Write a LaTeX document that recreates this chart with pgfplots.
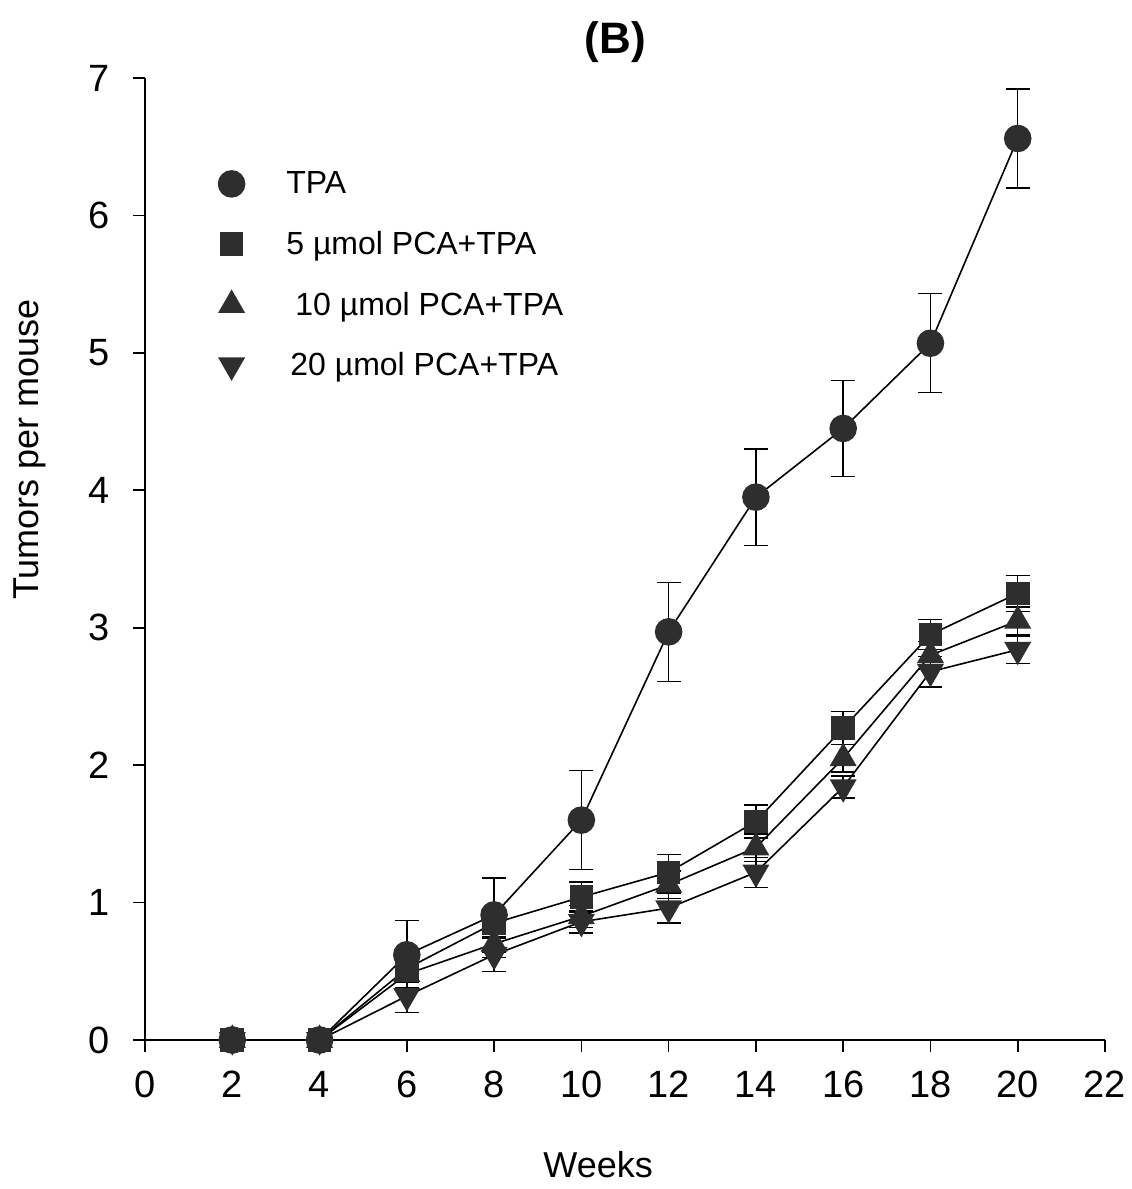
\documentclass[border=0pt]{standalone}
\usepackage{pgfplots}
\pgfplotsset{compat=1.18}
\usepackage{fontspec}
\setmainfont{Liberation Sans}
\definecolor{mk}{gray}{0.18}
\begin{document}
\begin{tikzpicture}
\useasboundingbox (-72.5pt,-74.5pt) rectangle (493pt,520pt);
\begin{axis}[
  at={(0,0)}, anchor=south west,
  scale only axis, width=480pt, height=481pt,
  xmin=0, xmax=22, ymin=0, ymax=7,
  xtick={0,2,...,22}, ytick={0,1,...,7},
  axis lines*=left,
  axis line style={line width=0.8pt},
  tick align=outside, major tick length=6pt,
  tick style={line width=0.8pt, black},
  /pgf/number format/assume math mode=true,
  tick label style={font=\fontsize{19}{22}\selectfont},
  xticklabel style={yshift=-6pt},
  yticklabel style={xshift=-8pt},
  xlabel={Weeks}, ylabel={Tumors per mouse},
  label style={font=\fontsize{18}{21}\selectfont},
  xlabel style={at={(axis description cs:0.472,-0.13)}, anchor=center},
  ylabel style={at={(axis description cs:-0.12,0.614)}, anchor=center},
  title={(B)},
  title style={at={(axis description cs:0.49,1)}, anchor=center, yshift=12pt, font=\fontsize{22}{26}\selectfont\bfseries},
  clip=false,
  every axis plot/.append style={line width=0.8pt, black},
  error bars/y dir=both, error bars/y explicit,
  error bars/error bar style={line width=0.7pt, black},
  error bars/error mark options={rotate=90, mark size=6pt, line width=0.7pt, black},
  legend style={at={(axis description cs:0.07,0.908)}, anchor=north west, draw=none, fill=none,
     font=\fontsize{16}{19}\selectfont, row sep=17pt,
     nodes={inner sep=0pt, anchor=west}},
  legend cell align=left,
  reverse legend,
  legend image code/.code={\path[#1] plot coordinates {(0.3cm,0cm)} node[right=19pt]{};},
]
% 20 umol
\addplot[mark=triangle*, mark size=7pt, mark options={rotate=180, fill=mk, draw=mk}]
  coordinates {(2,0) +- (0,0) (4,0) +- (0,0) (6,0.32) +- (0,0.12) (8,0.62) +- (0,0.12) (10,0.86) +- (0,0.08)
  (12,0.96) +- (0,0.11) (14,1.22) +- (0,0.11) (16,1.84) +- (0,0.08) (18,2.68) +- (0,0.11) (20,2.84) +- (0,0.10)};
\addlegendentry{\hspace*{9pt}20 µmol PCA+TPA}
% 10 umol
\addplot[mark=triangle*, mark size=7pt, mark options={fill=mk, draw=mk}]
  coordinates {(2,0) +- (0,0) (4,0) +- (0,0) (6,0.48) +- (0,0.1) (8,0.70) +- (0,0.1) (10,0.90) +- (0,0.08)
  (12,1.13) +- (0,0.1) (14,1.40) +- (0,0.1) (16,2.05) +- (0,0.1) (18,2.80) +- (0,0.1) (20,3.05) +- (0,0.1)};
\addlegendentry{\hspace*{11.5pt}10 µmol PCA+TPA}
% 5 umol
\addplot[mark=square*, mark size=5.5pt, mark options={fill=mk, draw=mk}]
  coordinates {(2,0) +- (0,0) (4,0) +- (0,0) (6,0.52) +- (0,0.1) (8,0.85) +- (0,0.1) (10,1.04) +- (0,0.11)
  (12,1.22) +- (0,0.13) (14,1.59) +- (0,0.12) (16,2.27) +- (0,0.12) (18,2.95) +- (0,0.11) (20,3.25) +- (0,0.13)};
\addlegendentry{\hspace*{7pt}5 µmol PCA+TPA}
% TPA
\addplot[mark=*, mark size=6.5pt, mark options={fill=mk, draw=mk}]
  coordinates {(2,0) +- (0,0) (4,0) +- (0,0) (6,0.62) +- (0,0.25) (8,0.91) +- (0,0.27) (10,1.60) +- (0,0.36)
  (12,2.97) +- (0,0.36) (14,3.95) +- (0,0.35) (16,4.45) +- (0,0.35) (18,5.07) +- (0,0.36) (20,6.56) +- (0,0.36)};
\addlegendentry{\hspace*{7pt}TPA}
\end{axis}
\end{tikzpicture}
\end{document}
